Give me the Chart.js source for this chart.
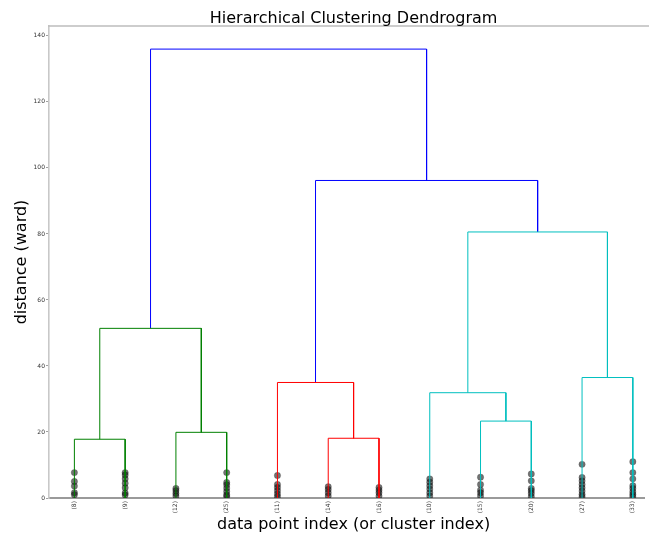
<!DOCTYPE html>
<html>
<head>
<meta charset="utf-8">
<script src="https://cdn.jsdelivr.net/npm/chart.js@4/dist/chart.umd.min.js"></script>
<style>
  html, body { margin: 0; padding: 0; background: #fff; }
  #wrap { width: 649px; height: 538px; }
</style>
</head>
<body>
<div id="wrap"><canvas id="c" width="649" height="538"></canvas></div>
<script>
// Leaves of the truncated dendrogram (cluster sizes), left to right
const leafLabels = ['(8)', '(9)', '(12)', '(25)', '(11)', '(14)', '(16)', '(10)', '(15)', '(20)', '(27)', '(33)'];

// Distances of the contracted merges inside each leaf cluster
const leafDistances = [
  [7.7, 5.0, 3.6, 1.6, 1.0],
  [7.7, 7.0, 5.8, 4.5, 3.1, 1.5, 0.9],
  [2.9, 2.2, 1.4, 0.6],
  [7.7, 4.7, 4.0, 3.0, 2.0, 1.0, 0.5],
  [6.8, 4.1, 3.2, 2.2, 1.2, 0.4],
  [3.4, 2.6, 1.6, 0.6],
  [3.2, 2.4, 1.6, 0.6],
  [5.8, 4.8, 3.7, 2.7, 1.6, 0.6],
  [6.3, 4.1, 2.4, 1.6, 0.6],
  [7.3, 5.2, 2.9, 2.2, 1.4, 0.4],
  [10.2, 6.2, 5.2, 4.1, 3.1, 2.1, 1.1, 0.4],
  [11.0, 7.7, 5.8, 3.7, 2.9, 1.9, 1.1, 0.4]
];

// Linkage: node ids 0..11 are leaves, 12.. are the merges below in order
const mergeLeft   = [0, 5, 2, 8, 7, 4, 10, 12, 16, 17, 19];
const mergeRight  = [1, 6, 3, 9, 15, 13, 11, 14, 18, 20, 21];
const mergeHeight = [17.8, 18.1, 19.9, 23.3, 31.9, 35.0, 36.5, 51.4, 80.6, 96.2, 136.0];
const mergeColor  = ['g', 'r', 'g', 'c', 'c', 'r', 'c', 'g', 'c', 'b', 'b'];

const yTicks = [0, 20, 40, 60, 80, 100, 120, 140];

const palette = { g: '#008000', r: '#ff0000', c: '#00bfbf', b: '#0000ff' };

// leaf slots sit at 5, 15, 25, ... as in scipy's dendrogram layout
const leafX = leafLabels.map((_, i) => 5 + 10 * i);
const nodeX = leafX.slice();
const nodeY = leafX.map(() => 0);

const datasets = [];
mergeLeft.forEach((l, k) => {
  const r = mergeRight[k];
  const h = mergeHeight[k];
  datasets.push({
    type: 'line',
    data: [
      { x: nodeX[l], y: nodeY[l] },
      { x: nodeX[l], y: h },
      { x: nodeX[r], y: h },
      { x: nodeX[r], y: nodeY[r] }
    ],
    borderColor: palette[mergeColor[k]],
    borderWidth: 1,
    pointRadius: 0,
    tension: 0,
    fill: false
  });
  nodeX.push((nodeX[l] + nodeX[r]) / 2);
  nodeY.push(h);
});

const dots = [];
leafDistances.forEach((vals, i) => vals.forEach(v => dots.push({ x: leafX[i], y: v })));
datasets.push({
  type: 'scatter',
  data: dots,
  backgroundColor: 'rgba(20,20,20,0.6)',
  borderColor: 'rgba(20,20,20,0.35)',
  borderWidth: 0.5,
  pointRadius: 3.2
});

// the x range runs 0..120 but the figure is cut off before its right end
const X_FULL = 120;

// title, x label and top spine, centred on the full 0..120 x range
const frame = {
  id: 'frame',
  afterDraw(chart) {
    const { ctx, chartArea } = chart;
    const xs = chart.scales.x;
    const cx = xs.getPixelForValue(X_FULL / 2);
    ctx.save();
    ctx.strokeStyle = '#bdbdbd';
    ctx.lineWidth = 1.6;
    ctx.beginPath();
    ctx.moveTo(chartArea.left - 0.8, chartArea.top);
    ctx.lineTo(chart.width + 20, chartArea.top);
    ctx.stroke();
    ctx.fillStyle = '#000';
    ctx.font = '16px "DejaVu Sans"';
    ctx.textAlign = 'center';
    ctx.textBaseline = 'alphabetic';
    ctx.fillText('Hierarchical Clustering Dendrogram', cx, 23);
    ctx.fillText('data point index (or cluster index)', cx, 529);
    ctx.restore();
  }
};

new Chart(document.getElementById('c'), {
  data: { datasets },
  options: {
    responsive: false,
    animation: false,
    layout: { padding: { top: 26, right: 0, left: 0, bottom: 0 } },
    plugins: { legend: { display: false }, tooltip: { enabled: false } },
    scales: {
      x: {
        type: 'linear',
        min: 0,
        max: 117.3,
        afterBuildTicks(scale) { scale.ticks = leafX.map(v => ({ value: v })); },
        afterFit(scale) { scale.height = 40; },
        ticks: {
          autoSkip: false,
          minRotation: 90,
          maxRotation: 90,
          padding: 3,
          color: '#333',
          font: { family: 'DejaVu Sans', size: 6 },
          callback: (v, i) => leafLabels[i]
        },
        grid: { drawOnChartArea: false, drawTicks: false },
        border: { color: '#9a9a9a', width: 2 }
      },
      y: {
        type: 'linear',
        min: 0,
        max: 143,
        afterBuildTicks(scale) { scale.ticks = yTicks.map(v => ({ value: v })); },
        afterFit(scale) { scale.width = 49; },
        ticks: {
          padding: 1,
          color: '#333',
          font: { family: 'DejaVu Sans', size: 6 }
        },
        grid: { drawOnChartArea: false, tickLength: 3, tickColor: '#888', tickWidth: 0.8 },
        border: { color: '#c8c8c8', width: 1.6 },
        title: {
          display: true,
          text: 'distance (ward)',
          color: '#000',
          font: { family: 'DejaVu Sans', size: 16 },
          padding: { top: 12, bottom: 0 }
        }
      }
    }
  },
  plugins: [frame]
});
</script>
</body>
</html>
